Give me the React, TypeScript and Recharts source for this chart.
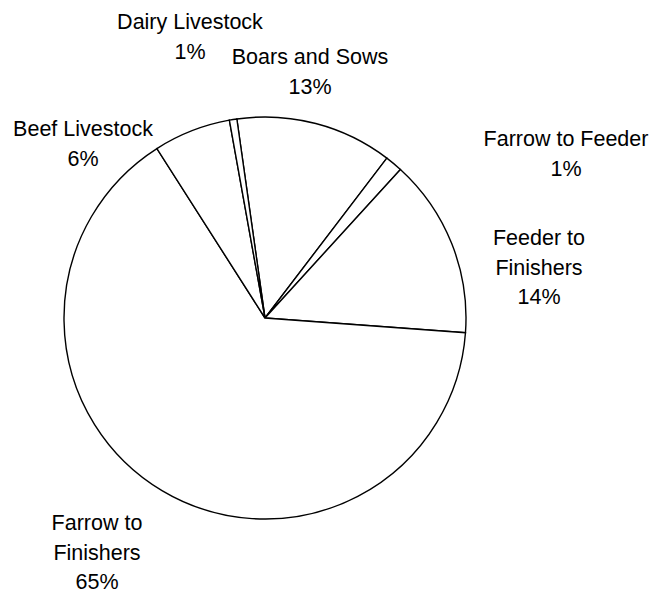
import { PieChart, Pie, Cell } from "recharts";

const CATEGORIES = [
  "Boars and Sows",
  "Farrow to Feeder",
  "Feeder to Finishers",
  "Farrow to Finishers",
  "Beef Livestock",
  "Dairy Livestock",
];
const SHARES = [12.6, 1.4, 14.4, 64.8, 6.2, 0.6];
// how each label wraps onto lines
const LABEL_LINES = [
  ["Boars and Sows"],
  ["Farrow to Feeder"],
  ["Feeder to", "Finishers"],
  ["Farrow to", "Finishers"],
  ["Beef Livestock"],
  ["Dairy Livestock"],
];

// label placement relative to the pie centre (first baseline, centred)
const LABEL_OFFSET: [number, number][] = [
  [45, -254],
  [301, -172],
  [274, -73],
  [-168, 212],
  [-182, -182],
  [-75, -289],
];

const data = CATEGORIES.map((name, i) => ({ name, value: SHARES[i] }));

const FONT = "'Liberation Sans', Arial, sans-serif";
const LINE_H = 29.5;

function renderLabel(props: any) {
  const { cx, cy, percent, index } = props;
  const [dx, dy] = LABEL_OFFSET[index];
  const lines = [...LABEL_LINES[index], `${Math.round(percent * 100)}%`];
  const x = cx + dx;
  return (
    <text x={x} y={cy + dy} textAnchor="middle" fontFamily={FONT} fontSize={21.5} fill="#000">
      {lines.map((l, i) => (
        <tspan key={i} x={x} dy={i === 0 ? 0 : LINE_H}>
          {l}
        </tspan>
      ))}
    </text>
  );
}

export default function App() {
  return (
    <div style={{ position: "absolute", left: 0, top: 0, background: "#fff" }}>
      <PieChart width={653} height={593} margin={{ top: 0, right: 0, bottom: 0, left: 0 }}>
        <Pie
          data={data}
          dataKey="value"
          nameKey="name"
          cx={265}
          cy={318}
          outerRadius={201}
          startAngle={98.05}
          endAngle={98.05 - 360}
          stroke="#000"
          strokeWidth={1.4}
          label={renderLabel}
          labelLine={false}
          isAnimationActive={false}
        >
          {data.map((d) => (
            <Cell key={d.name} fill="#fff" stroke="#000" />
          ))}
        </Pie>
      </PieChart>
    </div>
  );
}
